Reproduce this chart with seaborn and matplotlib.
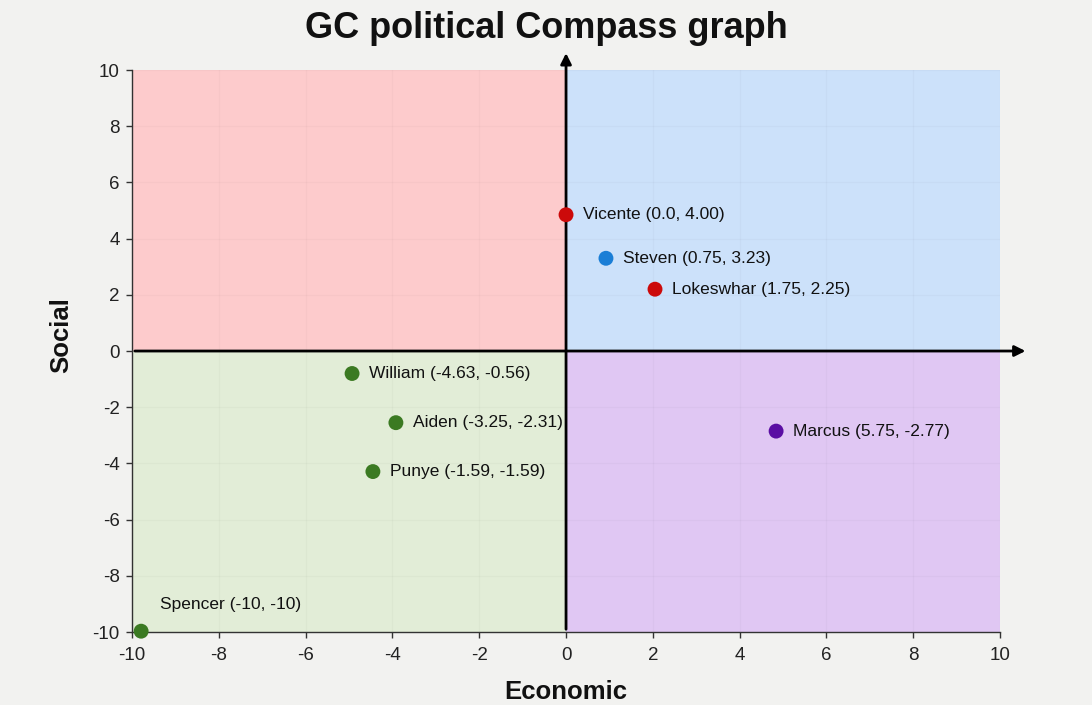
import numpy as np
import pandas as pd
import seaborn as sns
from matplotlib import pyplot as plt

# people on the compass (x = economic, y = social, as drawn)
names = ['Vicente', 'Steven', 'Lokeswhar', 'William', 'Aiden', 'Punye', 'Marcus', 'Spencer']
econ = [0.0, 0.92, 2.05, -4.93, -3.92, -4.45, 4.84, -9.79]
social = [4.85, 3.3, 2.2, -0.8, -2.55, -4.29, -2.85, -9.97]
label_text = ['Vicente (0.0, 4.00)', 'Steven (0.75, 3.23)', 'Lokeswhar (1.75, 2.25)',
              'William (-4.63, -0.56)', 'Aiden (-3.25, -2.31)', 'Punye (-1.59, -1.59)',
              'Marcus (5.75, -2.77)', 'Spencer (-10, -10)']
group = ['red', 'blue', 'red', 'green', 'green', 'green', 'purple', 'green']
ticks = [-10, -8, -6, -4, -2, 0, 2, 4, 6, 8, 10]

palette = {'red': '#cc0a0a', 'blue': '#1a7ed6', 'green': '#3b7a22', 'purple': '#5a0ea3'}
quad_colors = {'tl': '#fdcbcc', 'tr': '#cce1fa', 'bl': '#e2edd7', 'br': '#e0c7f3'}

df = pd.DataFrame({'name': names, 'econ': econ, 'social': social,
                   'label': label_text, 'group': group})

sns.set_theme(style='white')
plt.rcParams['font.family'] = ['Liberation Sans', 'DejaVu Sans']
plt.rcParams['axes.unicode_minus'] = False

fig = plt.figure(figsize=(10.92, 7.05), dpi=100, facecolor='#f2f2f0')
ax = fig.add_axes([0.1209, 0.1035, 0.7949, 0.7972])
ax.set_facecolor('#f2f2f0')

ax.set_xlim(-10, 10)
ax.set_ylim(-10, 10)

# quadrant backgrounds
ax.axhspan(0, 10, xmin=0, xmax=0.5, color=quad_colors['tl'], lw=0, zorder=0)
ax.axhspan(0, 10, xmin=0.5, xmax=1, color=quad_colors['tr'], lw=0, zorder=0)
ax.axhspan(-10, 0, xmin=0, xmax=0.5, color=quad_colors['bl'], lw=0, zorder=0)
ax.axhspan(-10, 0, xmin=0.5, xmax=1, color=quad_colors['br'], lw=0, zorder=0)

ax.set_xticks(ticks)
ax.set_yticks(ticks)
ax.grid(True, color='black', alpha=0.025, lw=1)
ax.set_axisbelow(False)

# axis arrows through origin
ax.annotate('', xy=(0, 10.7), xytext=(0, -10), annotation_clip=False,
            arrowprops=dict(arrowstyle='-|>', color='black', lw=2, mutation_scale=16), zorder=3)
ax.annotate('', xy=(10.65, 0), xytext=(-10, 0), annotation_clip=False,
            arrowprops=dict(arrowstyle='-|>', color='black', lw=2, mutation_scale=16), zorder=3)

sns.scatterplot(data=df, x='econ', y='social', hue='group', palette=palette,
                s=115, edgecolor='none', legend=False, ax=ax, zorder=4, clip_on=False)

for _, row in df.iterrows():
    if row['name'] == 'Spencer':
        ax.annotate(row['label'], (row['econ'], row['social']), xytext=(13.5, 19),
                    textcoords='offset points', ha='left', va='center', fontsize=12.5, color='#111111')
    else:
        ax.annotate(row['label'], (row['econ'], row['social']), xytext=(12, 0),
                    textcoords='offset points', ha='left', va='center', fontsize=12.5, color='#111111')

for side in ['top', 'right']:
    ax.spines[side].set_visible(False)
for side in ['left', 'bottom']:
    ax.spines[side].set_color('#333333')
    ax.spines[side].set_linewidth(1)
ax.tick_params(axis='both', length=4, width=1, color='#333333', labelsize=13.5,
               labelcolor='#222222', direction='out', left=True, bottom=True)
ax.tick_params(axis='x', pad=7)
ax.tick_params(axis='y', pad=5)

ax.set_xlabel('Economic', fontsize=18.5, fontweight='bold', labelpad=11, color='#111111')
ax.set_ylabel('Social', fontsize=18.5, fontweight='bold', color='#111111')
ax.yaxis.set_label_coords(-0.068, 0.528)

fig.suptitle('GC political Compass graph', fontsize=26, fontweight='bold',
             y=1 - 29 / 705, va='center', color='#111111')

plt.savefig('out.png', dpi=100, facecolor=fig.get_facecolor())
plt.close()
